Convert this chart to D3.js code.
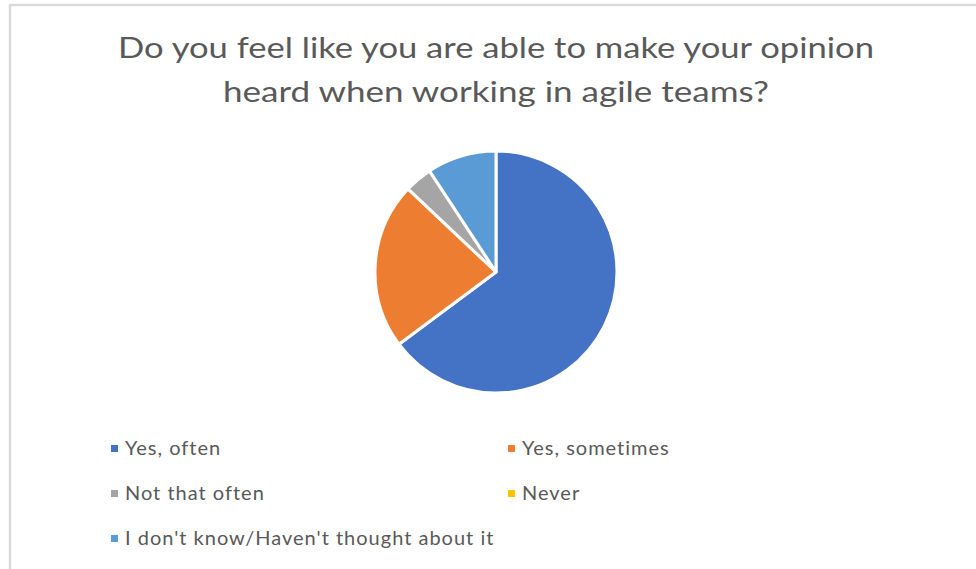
<!DOCTYPE html>
<html>
<head>
<meta charset="utf-8">
<script src="https://cdn.jsdelivr.net/npm/d3@7"></script>
<style>
  body { margin: 0; background: #fff; }
  text { font-family: Lato, "Open Sans", sans-serif; fill: #595959; }
</style>
</head>
<body>
<svg></svg>
<script>
var categories = ["Yes, often", "Yes, sometimes", "Not that often", "Never", "I don't know/Haven't thought about it"];
var counts = [35, 12, 2, 0, 5];
var colours = ["#4472C4", "#ED7D31", "#A5A5A5", "#FFC000", "#5B9BD5"];
var titleLines = ["Do you feel like you are able to make your opinion", "heard when working in agile teams?"];

var w = 976, h = 569,
    cx = 496, cy = 272, r = 121;

var svg = d3.select("svg")
  .attr("width", w)
  .attr("height", h);

// chart frame (only top and left edges show in the crop)
svg.append("path")
  .attr("d", "M10,569 V5 H976")
  .attr("fill", "none")
  .attr("stroke", "#d9d9d9")
  .attr("stroke-width", 2.5);

var titleW = [756, 546];
svg.selectAll(".title")
  .data(titleLines)
  .join("text")
  .attr("class", "title")
  .attr("x", cx)
  .attr("y", function(d, i){ return 58 + i * 44; })
  .attr("text-anchor", "middle")
  .attr("font-size", 29)
  .attr("textLength", function(d, i){ return titleW[i]; })
  .attr("lengthAdjust", "spacingAndGlyphs")
  .text(function(d){ return d; });

var colour = d3.scaleOrdinal()
  .domain(categories)
  .range(colours);

var pie = d3.pie()
  .sort(null)
  .value(function(d){ return d.v; });

var arc = d3.arc()
  .innerRadius(0)
  .outerRadius(r);

var slices = categories.map(function(c, i){ return {name: c, v: counts[i]}; });

svg.append("g")
  .attr("transform", "translate(" + cx + "," + cy + ")")
  .selectAll("path")
  .data(pie(slices).filter(function(d){ return d.value > 0; }))
  .join("path")
  .attr("d", arc)
  .attr("fill", function(d){ return colour(d.data.name); })
  .attr("stroke", "#fff")
  .attr("stroke-width", 3)
  .attr("stroke-linejoin", "round");

// legend, two columns
var colX = [111, 508], rowY = [448, 493, 538];

var items = svg.selectAll(".leg")
  .data(categories)
  .join("g")
  .attr("class", "leg")
  .attr("transform", function(d, i){
    return "translate(" + colX[i % 2] + "," + rowY[Math.floor(i / 2)] + ")";
  });

items.append("rect")
  .attr("x", 0)
  .attr("y", -3)
  .attr("width", 7)
  .attr("height", 7)
  .attr("fill", function(d){ return colour(d); });

items.append("text")
  .attr("x", 14)
  .attr("y", 7)
  .attr("font-size", 20)
  .attr("letter-spacing", 1)
  .text(function(d){ return d; });
</script>
</body>
</html>
